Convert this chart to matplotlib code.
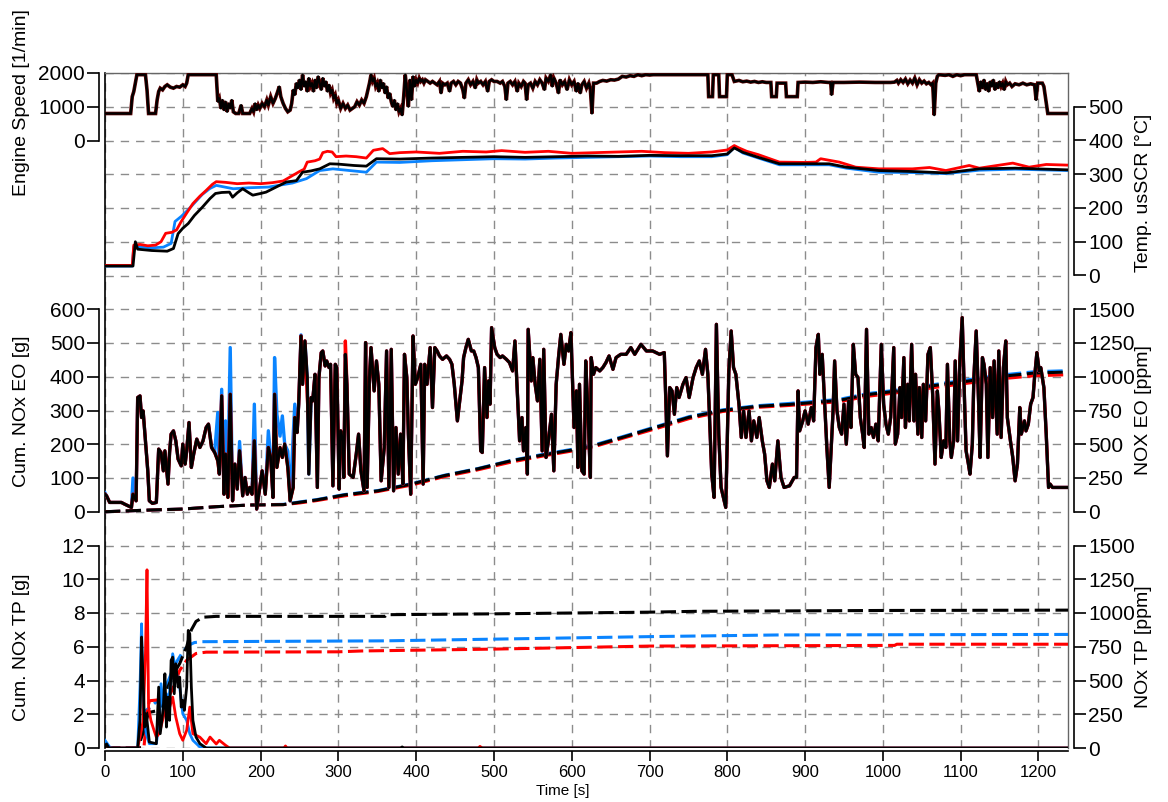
"""Drive-cycle overview: engine speed, SCR inlet temperature, engine-out and
tailpipe NOx (instantaneous ppm + cumulative grams) for three variants."""
import matplotlib
matplotlib.use("Agg")
import matplotlib.pyplot as plt

plt.rcParams["font.family"] = ["Liberation Sans", "DejaVu Sans"]

BLUE = "#0a84ff"
RED = "#ff0000"
BLACK = "#000000"

# ---- engine speed [1/min] (t, n) ------------------------------------------
engine_speed = [
    (0, 800), (33, 800), (35, 1300), (37, 1450), (39, 1700), (41, 1950), (52, 1950), (54, 1500),
    (56, 800), (65, 800), (67, 1200), (69, 1450), (71, 1550), (74, 1500), (77, 1600), (80, 1650),
    (84, 1580), (88, 1550), (92, 1600), (96, 1580), (100, 1650), (103, 1600), (105, 1700), (107, 1950),
    (143, 1950), (145, 1150), (147, 1250), (149, 950), (151, 1200), (153, 900), (155, 1150), (157, 850),
    (159, 1100), (161, 950), (163, 1200), (165, 850), (168, 800), (172, 800), (175, 1050), (177, 800),
    (186, 800), (189, 950), (191, 850), (193, 1100), (195, 900), (197, 1050), (199, 950), (202, 1100),
    (205, 1000), (208, 1200), (210, 1050), (213, 1300), (216, 1100), (219, 1250), (222, 1450), (224, 1600),
    (226, 1300), (229, 1100), (232, 950), (235, 850), (238, 900), (240, 1100), (242, 1500), (244, 1350),
    (246, 1700), (248, 1550), (250, 1800), (252, 1500), (254, 1950), (256, 1600), (258, 1750), (260, 1450),
    (262, 1850), (264, 1600), (266, 1700), (268, 1450), (270, 1800), (272, 1550), (274, 1900), (276, 1700),
    (278, 1500), (280, 1850), (282, 1600), (284, 1750), (286, 1450), (288, 1650), (290, 1400), (292, 1500),
    (294, 1250), (296, 1350), (298, 1100), (300, 1200), (303, 950), (306, 1100), (309, 950), (312, 1050),
    (315, 900), (318, 950), (321, 1000), (324, 1150), (327, 1050), (330, 1200), (333, 1100), (336, 1300),
    (338, 1500), (340, 1700), (342, 1950), (344, 1750), (346, 1850), (348, 1600), (350, 1700), (352, 1450),
    (354, 1800), (356, 1550), (358, 1700), (360, 1400), (362, 1600), (364, 1250), (366, 1400), (368, 1150),
    (370, 1000), (372, 1200), (374, 900), (376, 1100), (378, 850), (380, 950), (382, 750), (384, 1300),
    (386, 1950), (388, 1500), (390, 1000), (392, 1800), (394, 1200), (396, 1900), (398, 1600), (400, 1800),
    (402, 1700), (404, 1850), (406, 1750), (408, 1800), (410, 1700), (412, 1800), (415, 1750), (418, 1700),
    (421, 1750), (424, 1700), (427, 1650), (430, 1750), (432, 1400), (434, 1700), (437, 1650), (440, 1700),
    (443, 1450), (445, 1700), (448, 1750), (451, 1650), (454, 1750), (457, 1700), (460, 1500), (462, 1250),
    (464, 1700), (467, 1800), (470, 1650), (473, 1750), (476, 1550), (478, 1800), (480, 1700), (483, 1750),
    (486, 1650), (489, 1750), (492, 1450), (494, 1750), (497, 1800), (500, 1750), (504, 1750), (508, 1700),
    (511, 1750), (514, 1600), (516, 1200), (518, 1700), (521, 1750), (524, 1650), (527, 1750), (530, 1450),
    (532, 1700), (535, 1600), (538, 1750), (540, 1700), (542, 1200), (544, 1650), (547, 1700), (550, 1550),
    (553, 1750), (556, 1650), (559, 1800), (562, 1700), (565, 1500), (567, 1850), (570, 1750), (573, 1950),
    (575, 1600), (577, 1850), (580, 1700), (583, 1400), (585, 1800), (588, 1650), (591, 1750), (594, 1500),
    (597, 1800), (600, 1650), (603, 1750), (606, 1450), (608, 1700), (611, 1400), (613, 1650), (616, 1750),
    (619, 1550), (622, 1700), (624, 1500), (626, 800), (628, 1700), (632, 1700), (636, 1750), (640, 1780),
    (645, 1760), (650, 1800), (655, 1790), (660, 1820), (665, 1900), (670, 1880), (675, 1920), (680, 1900),
    (685, 1950), (690, 1920), (695, 1950), (700, 1940), (705, 1950), (775, 1950), (776, 1300), (781, 1300),
    (782, 1950), (789, 1950), (790, 1300), (799, 1300), (800, 1950), (806, 1950), (809, 1750), (815, 1780),
    (820, 1740), (825, 1760), (830, 1730), (835, 1750), (840, 1720), (845, 1740), (850, 1720), (856, 1720),
    (857, 1300), (863, 1300), (864, 1700), (875, 1700), (876, 1300), (890, 1300), (891, 1720), (900, 1730),
    (910, 1720), (920, 1740), (930, 1720), (933, 1720), (934, 1350), (936, 1720), (950, 1720), (970, 1730),
    (990, 1720), (1010, 1720), (1015, 1730), (1018, 1780), (1020, 1700), (1023, 1800), (1026, 1720),
    (1029, 1820), (1032, 1680), (1035, 1790), (1038, 1700), (1041, 1850), (1044, 1650), (1047, 1800),
    (1050, 1700), (1053, 1760), (1056, 1680), (1059, 1720), (1062, 1650), (1064, 1700), (1066, 750),
    (1068, 1700), (1070, 1900), (1072, 1950), (1080, 1930), (1085, 1950), (1090, 1900), (1095, 1950),
    (1100, 1920), (1105, 1950), (1120, 1950), (1122, 1700), (1124, 1450), (1126, 1750), (1128, 1550),
    (1130, 1800), (1132, 1500), (1134, 1700), (1136, 1450), (1138, 1750), (1140, 1600), (1142, 1800),
    (1144, 1500), (1146, 1700), (1148, 1550), (1150, 1750), (1152, 1600), (1154, 1700), (1156, 1500),
    (1158, 1750), (1160, 1650), (1163, 1700), (1166, 1600), (1170, 1680), (1175, 1650), (1180, 1700),
    (1185, 1650), (1190, 1680), (1195, 1650), (1197, 1200), (1199, 1700), (1205, 1700), (1207, 1600),
    (1212, 800), (1238, 800),
]

# ---- SCR inlet temperature [degC] ------------------------------------------
temp_red = [
    (0, 30), (35, 30), (37, 90), (45, 92), (55, 88), (65, 90), (72, 100), (78, 125), (86, 128),
    (92, 135), (98, 160), (105, 185), (113, 213), (122, 235), (130, 252), (138, 270), (143, 278),
    (155, 276), (170, 272), (185, 274), (200, 272), (215, 275), (229, 280), (241, 296), (250, 308),
    (256, 315), (260, 336), (270, 340), (276, 345), (280, 364), (286, 368), (292, 366), (297, 352),
    (310, 354), (323, 352), (336, 348), (345, 371), (357, 376), (366, 361), (379, 364), (400, 366),
    (430, 362), (460, 368), (490, 366), (510, 370), (540, 365), (570, 368), (600, 362), (630, 364),
    (660, 366), (690, 368), (720, 364), (750, 362), (780, 366), (800, 372), (809, 385), (815, 378),
    (825, 368), (840, 358), (867, 336), (900, 335), (914, 336), (920, 346), (944, 336), (965, 321),
    (995, 316), (1038, 316), (1060, 320), (1081, 311), (1111, 326), (1124, 318), (1167, 333),
    (1188, 321), (1210, 329), (1238, 327),
]
temp_blue = [
    (0, 28), (35, 28), (37, 85), (45, 84), (60, 82), (75, 84), (85, 95), (90, 160), (98, 175),
    (107, 195), (115, 215), (125, 240), (135, 258), (143, 267), (165, 257), (185, 260), (210, 262),
    (241, 274), (259, 287), (276, 311), (293, 316), (336, 306), (349, 336), (379, 335), (420, 340),
    (460, 343), (500, 346), (540, 345), (580, 348), (620, 350), (660, 352), (700, 354), (740, 352),
    (780, 352), (800, 358), (809, 380), (820, 363), (840, 348), (867, 328), (931, 328), (953, 318),
    (995, 306), (1040, 305), (1081, 302), (1124, 312), (1170, 315), (1238, 311),
]
temp_black = [
    (0, 28), (36, 28), (39, 100), (42, 78), (60, 74), (80, 72), (88, 80), (94, 124), (100, 140),
    (107, 154), (115, 178), (125, 202), (135, 228), (142, 243), (150, 246), (160, 247), (164, 232),
    (170, 245), (177, 257), (185, 245), (190, 238), (200, 243), (207, 247), (220, 262), (233, 277),
    (246, 281), (254, 306), (265, 310), (276, 316), (289, 331), (300, 330), (320, 326), (336, 324),
    (349, 346), (379, 345), (420, 348), (460, 350), (500, 352), (540, 350), (580, 352), (620, 354),
    (660, 353), (700, 356), (740, 355), (780, 355), (800, 360), (809, 378), (820, 365), (840, 350),
    (867, 331), (931, 331), (953, 321), (995, 311), (1040, 308), (1081, 304), (1124, 316),
    (1170, 318), (1238, 313),
]

# ---- engine-out NOx [ppm] --------------------------------------------------
nox_eo = [
    (0, 130), (2, 118), (6, 69), (21, 69), (25, 57), (34, 32), (36, 130), (40, 81), (42, 846),
    (45, 858), (47, 698), (49, 747), (52, 525), (55, 303), (57, 81), (61, 62), (66, 69), (69, 464),
    (72, 439), (75, 303), (77, 451), (81, 205), (83, 439), (85, 575), (88, 599), (91, 525), (94, 390),
    (98, 340), (100, 501), (103, 353), (105, 451), (108, 661), (111, 328), (114, 427), (118, 538),
    (122, 476), (126, 525), (130, 624), (133, 649), (137, 476), (141, 439), (145, 377), (147, 279),
    (150, 858), (153, 130), (155, 427), (158, 106), (161, 870), (164, 81), (167, 353), (170, 168),
    (173, 451), (177, 118), (180, 254), (183, 130), (186, 180), (189, 130), (192, 525), (195, 20),
    (199, 180), (202, 303), (206, 130), (210, 476), (213, 402), (216, 106), (218, 870), (221, 328),
    (225, 476), (228, 402), (231, 501), (235, 328), (238, 81), (242, 180), (244, 698), (247, 587),
    (249, 797), (252, 1302), (254, 944), (257, 1265), (260, 994), (262, 279), (265, 846), (267, 821),
    (270, 1018), (273, 180), (275, 994), (278, 1179), (280, 1191), (283, 1080), (285, 1117),
    (288, 1068), (290, 1092), (293, 192), (296, 1092), (298, 1068), (301, 168), (303, 599), (306, 525),
    (307, 254), (309, 1166), (311, 944), (314, 279), (319, 254), (323, 427), (326, 575), (329, 303),
    (333, 155), (335, 1253), (337, 180), (340, 994), (342, 1216), (346, 895), (349, 1117), (352, 944),
    (355, 229), (359, 476), (362, 1191), (365, 180), (368, 1203), (371, 155), (374, 624), (377, 279),
    (380, 575), (383, 205), (385, 1166), (388, 994), (390, 575), (393, 130), (396, 1302), (399, 944),
    (402, 994), (406, 1092), (409, 205), (411, 1092), (414, 944), (418, 1216), (421, 772), (424, 1216),
    (427, 1191), (430, 1154), (434, 1129), (439, 1154), (443, 1129), (446, 1092), (449, 944),
    (453, 673), (456, 821), (459, 969), (461, 1142), (464, 1216), (467, 1277), (471, 1191),
    (474, 1191), (477, 1142), (480, 1068), (483, 451), (485, 439), (488, 1068), (491, 698), (493, 969),
    (495, 797), (497, 1364), (501, 1216), (504, 1166), (508, 1142), (511, 1154), (516, 1129),
    (520, 1105), (524, 1043), (527, 1265), (530, 895), (533, 525), (536, 698), (538, 451), (541, 624),
    (543, 279), (544, 1351), (548, 969), (550, 1142), (553, 944), (556, 821), (559, 1129), (562, 451),
    (564, 1203), (567, 402), (570, 525), (574, 722), (577, 303), (580, 944), (583, 1142), (586, 1314),
    (590, 1092), (593, 1240), (596, 1191), (599, 1327), (603, 624), (606, 895), (608, 328), (610, 944),
    (613, 303), (616, 279), (618, 1117), (621, 722), (624, 254), (625, 1142), (628, 1018), (631, 1068),
    (636, 1043), (640, 1068), (644, 1105), (648, 1154), (653, 1055), (657, 1142), (663, 1166),
    (670, 1166), (676, 1216), (681, 1166), (689, 1240), (696, 1191), (704, 1191), (713, 1166),
    (719, 1179), (721, 821), (723, 414), (726, 920), (729, 895), (732, 722), (735, 920), (738, 846),
    (743, 944), (747, 994), (751, 846), (756, 994), (760, 1068), (764, 1117), (768, 1018), (772, 1203),
    (775, 1018), (778, 575), (780, 279), (783, 106), (786, 1388), (789, 575), (792, 180), (795, 106),
    (798, 32), (802, 1043), (805, 1339), (808, 1068), (811, 1018), (815, 797), (818, 550), (821, 747),
    (824, 550), (828, 747), (831, 525), (834, 673), (838, 550), (841, 698), (845, 525), (848, 427),
    (851, 229), (854, 180), (858, 353), (861, 229), (865, 525), (869, 254), (873, 180), (880, 192),
    (886, 254), (889, 254), (891, 895), (893, 599), (897, 673), (900, 747), (904, 649), (908, 772),
    (911, 673), (914, 1216), (917, 1314), (919, 1018), (922, 1166), (925, 821), (928, 476), (931, 180),
    (934, 525), (936, 747), (938, 1117), (941, 747), (944, 624), (947, 575), (950, 797), (953, 501),
    (956, 821), (959, 624), (962, 1240), (965, 1018), (968, 994), (971, 698), (974, 575), (976, 476),
    (979, 1351), (982, 575), (985, 624), (988, 550), (991, 649), (994, 525), (998, 1240), (1001, 797),
    (1004, 649), (1007, 575), (1010, 698), (1014, 1216), (1016, 501), (1019, 575), (1022, 920),
    (1024, 698), (1027, 1142), (1029, 624), (1032, 944), (1034, 673), (1037, 1240), (1040, 673),
    (1042, 1018), (1045, 575), (1047, 920), (1050, 550), (1052, 944), (1055, 673), (1058, 1166),
    (1061, 1216), (1064, 870), (1067, 353), (1070, 895), (1072, 747), (1075, 402), (1078, 525),
    (1081, 476), (1083, 1092), (1086, 525), (1088, 402), (1091, 525), (1093, 1117), (1096, 525),
    (1099, 1117), (1102, 1438), (1105, 821), (1107, 451), (1110, 353), (1112, 279), (1115, 501),
    (1117, 994), (1120, 1339), (1123, 821), (1125, 402), (1128, 1142), (1130, 1092), (1133, 944),
    (1135, 402), (1138, 1068), (1141, 698), (1143, 1117), (1147, 575), (1149, 1191), (1152, 550),
    (1155, 1068), (1158, 1265), (1160, 698), (1164, 525), (1167, 402), (1170, 229), (1173, 353),
    (1176, 772), (1178, 575), (1182, 673), (1184, 599), (1187, 649), (1190, 797), (1193, 846),
    (1195, 994), (1198, 1179), (1201, 1043), (1203, 1068), (1207, 920), (1210, 575), (1213, 180),
    (1215, 205), (1218, 180), (1238, 180),
]
# samples where the blue / red variants leave the common trace
nox_eo_blue_dev = {0: 140, 36: 250, 145: 735, 150: 907, 155: 673, 158: 300, 161: 1216, 173: 520,
                   192: 797, 210: 600, 218: 1142, 221: 722, 225: 560, 228: 710, 235: 450,
                   242: 575, 244: 797, 252: 1310}
nox_eo_red_dev = {260: 850, 262: 650, 309: 1265}

# ---- cumulative engine-out NOx [g] -----------------------------------------
cum_eo_t = [0, 57, 100, 143, 186, 229, 250, 272, 308, 351, 394, 436, 479, 522, 565, 608, 629,
            666, 708, 751, 794, 837, 880, 944, 980, 1023, 1066, 1109, 1152, 1195, 1238]
cum_eo_black = [0, 5, 8, 15, 20, 21, 28, 35, 50, 62, 82, 107, 127, 151, 169, 186, 196,
                221, 250, 280, 300, 312, 318, 330, 347, 359, 374, 387, 401, 411, 414]
cum_eo_blue = [0, 5, 8, 15, 20, 22, 29, 36, 51, 63, 83, 108, 128, 152, 171, 188, 198,
               223, 252, 282, 302, 314, 321, 333, 350, 362, 377, 391, 405, 415, 418]
cum_eo_red = [0, 5, 8, 15, 20, 21, 26, 33, 47, 60, 79, 104, 124, 147, 166, 183, 193,
              218, 246, 276, 297, 309, 315, 326, 342, 354, 368, 381, 394, 403, 406]

# ---- tailpipe NOx [ppm] ----------------------------------------------------
nox_tp_black = [
    (0, 0), (2, 30), (5, 0), (42, 0), (45, 205), (47, 822), (49, 500), (51, 155), (53, 254),
    (55, 150), (57, 44), (66, 32), (69, 451), (71, 106), (75, 303), (77, 550), (79, 155), (81, 377),
    (83, 205), (85, 649), (87, 673), (89, 402), (91, 624), (94, 451), (96, 525), (98, 303), (100, 353),
    (102, 279), (105, 451), (107, 871), (109, 846), (111, 451), (113, 205), (117, 81), (122, 32),
    (130, 0), (380, 0), (382, 8), (384, 0), (1238, 0),
]
nox_tp_red = [
    (0, 0), (42, 0), (45, 81), (49, 200), (52, 698), (54, 1320), (56, 303), (59, 205), (63, 131),
    (66, 80), (70, 110), (75, 229), (79, 328), (83, 300), (87, 377), (91, 230), (96, 106), (100, 57),
    (105, 131), (109, 303), (113, 106), (122, 80), (130, 32), (135, 81), (143, 30), (147, 57),
    (155, 20), (160, 0), (230, 0), (232, 15), (234, 0), (480, 0), (482, 12), (485, 0), (1238, 0),
]
nox_tp_blue = [
    (0, 57), (6, 7), (10, 0), (42, 0), (45, 451), (47, 920), (49, 303), (53, 106), (57, 32), (66, 32),
    (70, 205), (72, 476), (75, 303), (79, 402), (81, 303), (85, 525), (87, 698), (91, 575), (96, 451),
    (100, 254), (105, 205), (109, 106), (113, 57), (122, 7), (130, 0), (1238, 0),
]

# ---- cumulative tailpipe NOx [g] -------------------------------------------
cum_tp_black = [
    (0, 0), (44, 0), (46, 0.5), (49, 0.9), (53, 1.6), (56, 2.1), (66, 2.2), (72, 2.5), (80, 3.5),
    (87, 4.3), (96, 5.0), (105, 6.0), (111, 7.0), (117, 7.5), (126, 7.75), (143, 7.8), (360, 7.8),
    (362, 7.9), (500, 7.95), (700, 8.05), (760, 8.1), (1000, 8.15), (1238, 8.17),
]
cum_tp_blue = [
    (0, 0), (44, 0), (47, 1.2), (52, 2.2), (60, 2.5), (70, 2.9), (78, 3.6), (85, 4.4), (92, 5.1),
    (100, 5.7), (108, 6.1), (115, 6.25), (125, 6.3), (360, 6.35), (500, 6.45), (700, 6.6),
    (867, 6.7), (1238, 6.73),
]
cum_tp_red = [
    (0, 0), (50, 0), (54, 2.0), (57, 2.8), (80, 2.9), (87, 3.5), (96, 4.6), (105, 5.2), (117, 5.6),
    (130, 5.68), (300, 5.7), (330, 5.75), (500, 5.86), (700, 6.04), (1015, 6.08), (1018, 6.15),
    (1238, 6.15),
]

T_END = 1238
X_TICKS = list(range(0, 1201, 100))


def xy(pairs):
    return [p[0] for p in pairs], [p[1] for p in pairs]


def overlay(ax, side, ylim, ticks):
    """Twin axes covering the full frame; only the spine span of `ticks` is drawn."""
    a = ax.twinx()
    a.set_ylim(*ylim)
    a.patch.set_visible(False)
    for sp in a.spines.values():
        sp.set_visible(False)
    sp = a.spines[side]
    sp.set_visible(True)
    sp.set_bounds(ticks[0], ticks[-1])
    sp.set_position(("outward", 4))
    sp.set_linewidth(1.2)
    if side == "left":
        a.yaxis.tick_left()
    else:
        a.yaxis.tick_right()
    a.set_yticks(ticks)
    a.tick_params(axis="y", length=8.5, width=1.2, labelsize=15, pad=2)
    a.tick_params(axis="x", bottom=False, labelbottom=False)
    return a


fig = plt.figure(figsize=(11.68, 8.02), dpi=100)
ax = fig.add_axes([105 / 1168, 1 - 748 / 802, 963 / 1168, 675 / 802])

# 20 grid rows shared by the three stacked panels
ax.set_xlim(0, T_END)
ax.set_ylim(0, 20)
ax.set_yticks(range(21))
ax.set_xticks(X_TICKS)
ax.tick_params(axis="y", length=0, labelleft=False)
ax.tick_params(axis="x", length=7, width=1.2, labelsize=12, pad=3)
ax.grid(True, color="#8c8c8c", linestyle=(0, (6, 5)), linewidth=1.0)
ax.set_axisbelow(True)
ax.spines["bottom"].set_position(("outward", 2))
ax.spines["bottom"].set_linewidth(1.2)
ax.spines["left"].set_linewidth(1.2)
for s in ("top", "right"):
    ax.spines[s].set_color("#666666")
    ax.spines[s].set_linewidth(1.0)

# top panel: engine speed rows 18..20, temperature rows 14..19
ax_n = overlay(ax, "left", (-18000, 2000), [0, 1000, 2000])
t, v = xy(engine_speed)
ax_n.plot(t, v, color="#5a0000", lw=2.6, solid_joinstyle="miter")
ax_n.plot(t, v, color=BLACK, lw=1.6)

ax_T = overlay(ax, "right", (-1400, 600), [0, 100, 200, 300, 400, 500])
for series, col in ((temp_blue, BLUE), (temp_red, RED), (temp_black, BLACK)):
    t, v = xy(series)
    ax_T.plot(t, v, color=col, lw=2.0)

# middle panel: rows 7..13
ax_ce = overlay(ax, "left", (-700, 1300), [0, 100, 200, 300, 400, 500, 600])
ax_eo = overlay(ax, "right", (-1750, 3250), [0, 250, 500, 750, 1000, 1250, 1500])
t, v = xy(nox_eo)
v_blue = [nox_eo_blue_dev.get(ti, vi) for ti, vi in zip(t, v)]
v_red = [nox_eo_red_dev.get(ti, vi) for ti, vi in zip(t, v)]
ax_eo.plot(t, v_blue, color=BLUE, lw=2.4)
ax_eo.plot(t, v_red, color=RED, lw=2.4)
ax_eo.plot(t, v, color="#3a0000", lw=2.3)
ax_eo.plot(t, v, color=BLACK, lw=1.7)
dash = (0, (5, 1.8))
ax_ce.plot(cum_eo_t, cum_eo_blue, color=BLUE, lw=2.2, linestyle=dash)
ax_ce.plot(cum_eo_t, cum_eo_red, color=RED, lw=2.2, linestyle=dash)
ax_ce.plot(cum_eo_t, cum_eo_black, color=BLACK, lw=2.2, linestyle=dash)

# bottom panel: rows 0..6
ax_ct = overlay(ax, "left", (0, 40), [0, 2, 4, 6, 8, 10, 12])
ax_tp = overlay(ax, "right", (0, 5000), [0, 250, 500, 750, 1000, 1250, 1500])
for series, col in ((nox_tp_blue, BLUE), (nox_tp_red, RED), (nox_tp_black, BLACK)):
    t, v = xy(series)
    ax_tp.plot(t, v, color=col, lw=2.0)
for series, col in ((cum_tp_blue, BLUE), (cum_tp_red, RED), (cum_tp_black, BLACK)):
    t, v = xy(series)
    ax_ct.plot(t, v, color=col, lw=2.2, linestyle=dash)

# axis titles
labels = [
    ("Engine Speed [1/min]", 22, 103),
    ("Cum. NOx EO [g]", 22, 411),
    ("Cum. NOx TP [g]", 22, 647),
    ("Temp. usSCR [°C]", 1143, 193),
    ("NOX EO [ppm]", 1143, 410),
    ("NOx TP [ppm]", 1143, 647),
]
for txt, px, py in labels:
    fig.text(px / 1168, 1 - py / 802, txt, rotation=90, ha="center", va="center", fontsize=14)
fig.text(563 / 1168, 1 - 791 / 802, "Time [s]", ha="center", va="center", fontsize=11)

fig.savefig("out.png", dpi=100)
